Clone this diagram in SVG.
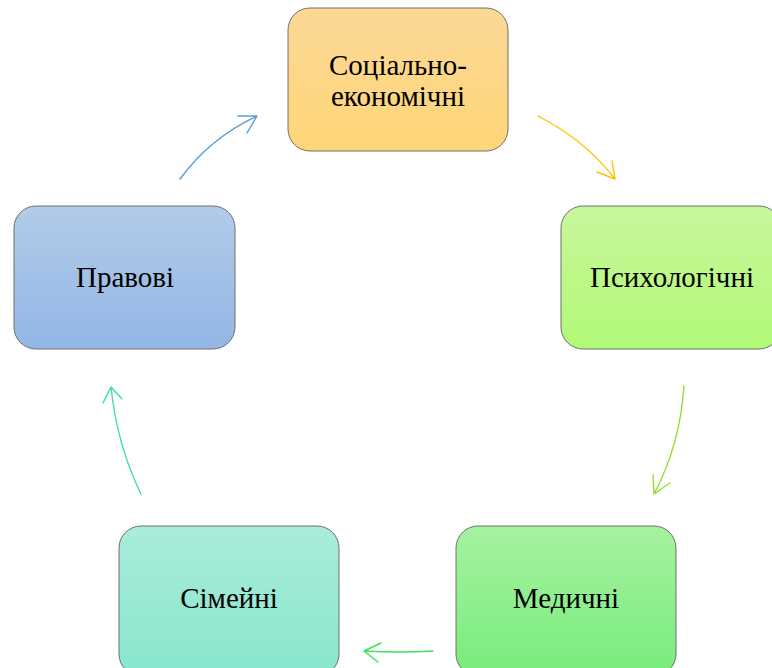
<svg xmlns="http://www.w3.org/2000/svg" width="772" height="668" viewBox="0 0 772 668">
<defs>
<linearGradient id="gTop" x1="0" y1="0" x2="0" y2="1"><stop offset="0" stop-color="#fcd897"/><stop offset="1" stop-color="#ffd677"/></linearGradient>
<linearGradient id="gRight" x1="0" y1="0" x2="0" y2="1"><stop offset="0" stop-color="#c9f69c"/><stop offset="1" stop-color="#b0fa76"/></linearGradient>
<linearGradient id="gMed" x1="0" y1="0" x2="0" y2="1"><stop offset="0" stop-color="#a6f2a2"/><stop offset="1" stop-color="#78ec7b"/></linearGradient>
<linearGradient id="gFam" x1="0" y1="0" x2="0" y2="1"><stop offset="0" stop-color="#aaecdb"/><stop offset="1" stop-color="#88e6cd"/></linearGradient>
<linearGradient id="gLaw" x1="0" y1="0" x2="0" y2="1"><stop offset="0" stop-color="#b2cbe9"/><stop offset="1" stop-color="#93b6e5"/></linearGradient>
</defs>
<style>
.box{stroke:#6e6e6e;stroke-width:1}
.t{font-family:"Liberation Serif","Times New Roman",serif;font-size:29px;fill:#000;text-anchor:middle}
.c{fill:none;stroke-width:1.4;stroke-linecap:round;stroke-linejoin:round}
</style>
<rect width="772" height="668" fill="#fff"/>
<g id="node-social">
<rect class="box" x="288" y="8" width="220" height="143" rx="22" fill="url(#gTop)"/>
<text class="t" x="398" y="75">Соціально-</text>
<text class="t" x="398" y="106">економічні</text>
</g>
<g id="node-psych">
<rect class="box" x="561" y="206" width="220" height="143" rx="22" fill="url(#gRight)"/>
<text class="t" x="672" y="287">Психологічні</text>
</g>
<g id="node-med">
<rect class="box" x="456" y="526" width="220" height="150" rx="22" fill="url(#gMed)"/>
<text class="t" x="566" y="608">Медичні</text>
</g>
<g id="node-family">
<rect class="box" x="119" y="526" width="220" height="150" rx="22" fill="url(#gFam)"/>
<text class="t" x="229" y="608">Сімейні</text>
</g>
<g id="node-law">
<rect class="box" x="14" y="206" width="221" height="143" rx="22" fill="url(#gLaw)"/>
<text class="t" x="125" y="287">Правові</text>
</g>
<g id="connectors">
<path class="c" stroke="#5b9bd5" d="M180 179 Q210 138 257 116 M238 116 L257 116 L247 133"/>
<path class="c" stroke="#ffc000" d="M538 116 Q585 140 615 179 M597 172 L615 179 L612 161"/>
<path class="c" stroke="#92e02a" d="M684 386 Q680 445 654 494 M653 475 L654 494 L670 483"/>
<path class="c" stroke="#3ee060" d="M433 651 Q400 653 364 651 M381 643 L364 651 L378 662"/>
<path class="c" stroke="#3be0b0" d="M141 494 Q117 445 111 387 M103 403 L111 387 L122 399"/>
</g>
</svg>
